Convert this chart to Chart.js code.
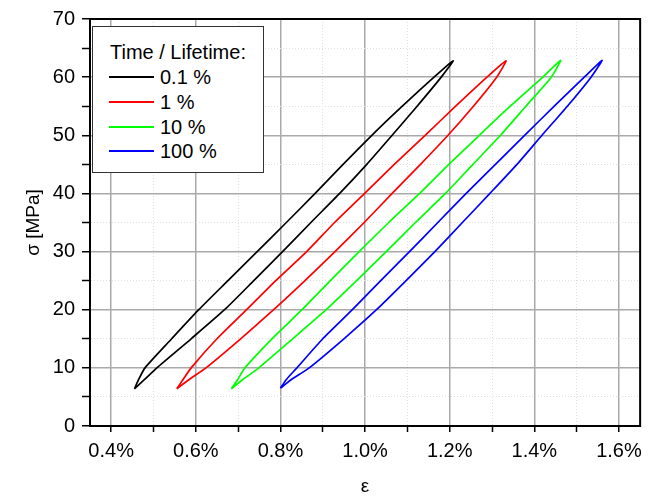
<!DOCTYPE html>
<html>
<head>
<meta charset="utf-8">
<script src="https://cdn.jsdelivr.net/npm/chart.js@4.4.0/dist/chart.umd.min.js"></script>
<style>
  body { margin: 0; background: #fff; }
  #wrap { position: relative; width: 649px; height: 498px; }
  #legend {
    position: absolute; left: 92px; top: 26px; width: 172px; height: 147px;
    box-sizing: border-box; border: 1.5px solid #333; background: #fff;
    font-family: "Liberation Sans", Arial, sans-serif; font-size: 20px; color: #000;
  }
  #legend .row { position: absolute; left: 0; height: 24px; line-height: 24px; white-space: nowrap; }
  #legend .swatch { position: absolute; left: 16px; top: 11px; width: 45px; height: 0; border-top: 2px solid; }
  #legend .txt { position: absolute; left: 67px; }
</style>
</head>
<body>
<div id="wrap">
  <canvas id="chart" width="649" height="498"></canvas>
  <div id="legend"></div>
</div>
<script>
// stress levels (MPa) at which the branches were read
const stressLevels = [8, 10, 15, 20, 25, 30, 35, 40, 45, 50, 55, 60];

const loopLabels = ['0.1 %', '1 %', '10 %', '100 %'];
const loopColors = ['#000000', '#ff0000', '#00ff00', '#0000ff'];

// loop tips (strain in %, stress in MPa)
const bottomTipStrain = [0.455, 0.555, 0.684, 0.800];
const bottomTipStress = [6.4, 6.4, 6.4, 6.5];
const topTipStrain = [1.208, 1.333, 1.462, 1.560];
const topTipStress = [62.8, 62.8, 62.9, 62.9];

// right (lower) branch of each loop, strain in %
const rightBranch = [
  [0.479, 0.508, 0.589, 0.668, 0.737, 0.805, 0.872, 0.940, 1.004, 1.064, 1.123, 1.180],
  [0.584, 0.624, 0.706, 0.784, 0.858, 0.929, 0.998, 1.064, 1.131, 1.196, 1.256, 1.311],
  [0.711, 0.749, 0.829, 0.908, 0.980, 1.050, 1.119, 1.190, 1.255, 1.320, 1.380, 1.440],
  [0.826, 0.868, 0.950, 1.027, 1.097, 1.165, 1.230, 1.295, 1.359, 1.418, 1.478, 1.534]
];
// left (upper) branch of each loop, strain in %
const leftBranch = [
  [0.465, 0.480, 0.543, 0.607, 0.676, 0.745, 0.814, 0.882, 0.948, 1.016, 1.088, 1.163],
  [0.570, 0.589, 0.650, 0.720, 0.789, 0.862, 0.928, 0.999, 1.069, 1.142, 1.214, 1.288],
  [0.699, 0.716, 0.780, 0.851, 0.918, 0.986, 1.056, 1.129, 1.198, 1.270, 1.343, 1.420],
  [0.814, 0.839, 0.900, 0.970, 1.037, 1.105, 1.172, 1.239, 1.308, 1.377, 1.447, 1.518]
];

const xTicks = [0.4, 0.5, 0.6, 0.7, 0.8, 0.9, 1.0, 1.1, 1.2, 1.3, 1.4, 1.5, 1.6];
const yTicks = [0, 5, 10, 15, 20, 25, 30, 35, 40, 45, 50, 55, 60, 65, 70];

const isMajorX = v => Math.round(v * 10) % 2 === 0;
const isMajorY = v => Math.round(v) % 10 === 0;

// closed loop: bottom tip -> right branch up -> top tip -> left branch down -> bottom tip
function loopPoints(i) {
  const pts = [{ x: bottomTipStrain[i], y: bottomTipStress[i] }];
  rightBranch[i].forEach((e, k) => pts.push({ x: e, y: stressLevels[k] }));
  pts.push({ x: topTipStrain[i], y: topTipStress[i] });
  for (let k = leftBranch[i].length - 1; k >= 0; k--) {
    pts.push({ x: leftBranch[i][k], y: stressLevels[k] });
  }
  pts.push({ x: bottomTipStrain[i], y: bottomTipStress[i] });
  return pts;
}

const datasets = loopLabels.map((label, i) => ({
  label,
  data: loopPoints(i),
  borderColor: loopColors[i],
  borderWidth: 1.7,
  pointRadius: 0,
  showLine: true,
  tension: 0.2,
  fill: false
}));

// top and right edges of the frame
const framePlugin = {
  id: 'frame',
  afterDraw(chart) {
    const { ctx, chartArea: a } = chart;
    ctx.save();
    ctx.strokeStyle = '#000';
    ctx.lineWidth = 2;
    ctx.strokeRect(a.left, a.top, a.right - a.left, a.bottom - a.top);
    ctx.restore();
  }
};

const font = { family: '"Liberation Sans", Arial, sans-serif', size: 20 };

new Chart(document.getElementById('chart'), {
  type: 'scatter',
  data: { datasets },
  plugins: [framePlugin],
  options: {
    responsive: false,
    animation: false,
    layout: { padding: { left: 20, right: 6, top: 19, bottom: 0 } },
    plugins: { legend: { display: false }, tooltip: { enabled: false } },
    scales: {
      x: {
        type: 'linear',
        min: 0.35,
        max: 1.65,
        afterBuildTicks: s => { s.ticks = xTicks.map(v => ({ value: v })); },
        afterFit: s => { s.height = 72; },
        ticks: {
          autoSkip: false,
          maxRotation: 0,
          padding: 7,
          color: '#000',
          font,
          callback: v => isMajorX(v) ? v.toFixed(1) + '%' : ''
        },
        grid: {
          color: c => c.tick && isMajorX(c.tick.value) ? '#a9a9a9' : '#dedede',
          lineWidth: c => c.tick && isMajorX(c.tick.value) ? 1.5 : 1,
          tickColor: '#000',
          tickWidth: 1.5,
          tickLength: 6
        },
        border: {
          color: '#000',
          width: 2,
          dash: c => c.tick && !isMajorX(c.tick.value) ? [1, 2] : []
        },
        title: {
          display: true,
          text: 'ε',
          color: '#000',
          font: { family: '"Liberation Sans", Arial, sans-serif', size: 19 },
          padding: { top: 0, bottom: 0 }
        }
      },
      y: {
        type: 'linear',
        min: 0,
        max: 70,
        afterBuildTicks: s => { s.ticks = yTicks.map(v => ({ value: v })); },
        afterFit: s => { s.width = 70; },
        ticks: {
          autoSkip: false,
          padding: 7,
          color: '#000',
          font,
          callback: v => isMajorY(v) ? String(v) : ''
        },
        grid: {
          color: c => c.tick && isMajorY(c.tick.value) ? '#a9a9a9' : '#dedede',
          lineWidth: c => c.tick && isMajorY(c.tick.value) ? 1.5 : 1,
          tickColor: '#000',
          tickWidth: 1.5,
          tickLength: 8
        },
        border: {
          color: '#000',
          width: 2,
          dash: c => c.tick && !isMajorY(c.tick.value) ? [1, 2] : []
        },
        title: {
          display: true,
          text: 'σ [MPa]',
          color: '#000',
          font: { family: '"Liberation Sans", Arial, sans-serif', size: 19 },
          padding: { top: 2, bottom: 0 }
        }
      }
    }
  }
});

// legend box drawn inside the plot, built from the same labels and colours
const legend = document.getElementById('legend');
const rowTops = [13, 38, 63, 88, 112];
const title = document.createElement('div');
title.className = 'row';
title.style.top = rowTops[0] + 'px';
title.style.left = '17px';
title.textContent = 'Time / Lifetime:';
legend.appendChild(title);
loopLabels.forEach((label, i) => {
  const row = document.createElement('div');
  row.className = 'row';
  row.style.top = rowTops[i + 1] + 'px';
  row.innerHTML = '<span class="swatch" style="border-color:' + loopColors[i] + '"></span>' +
    '<span class="txt">' + label + '</span>';
  legend.appendChild(row);
});
</script>
</body>
</html>
